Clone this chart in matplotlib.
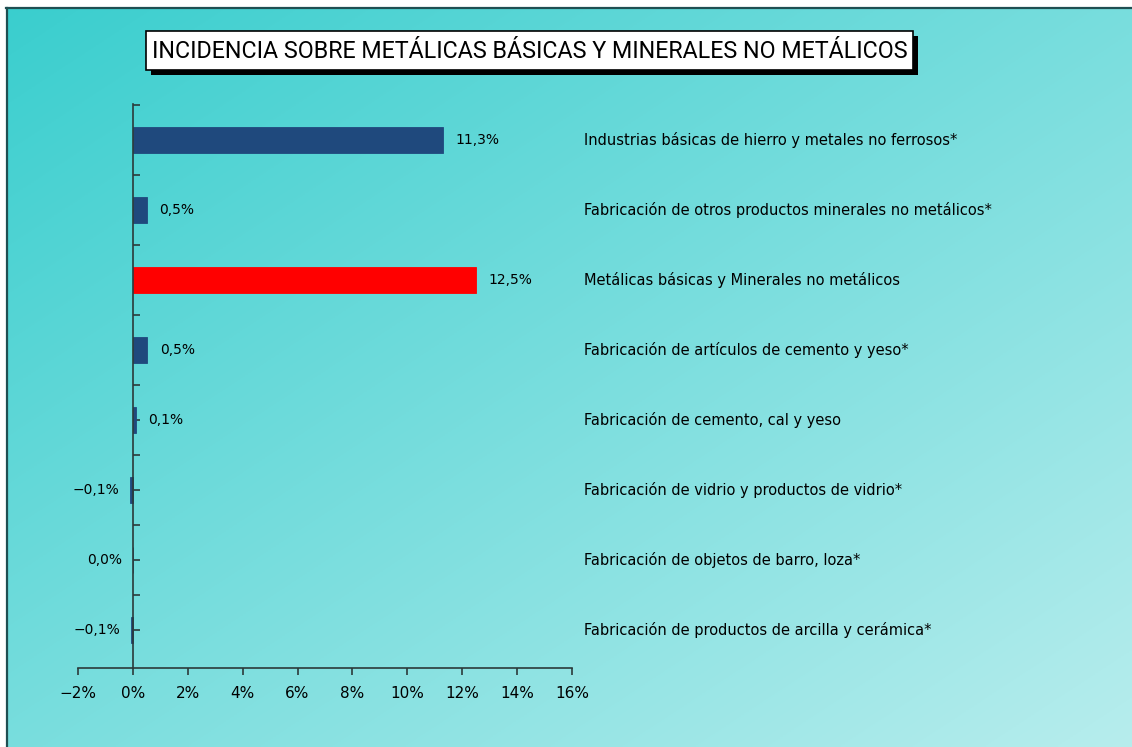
import numpy as np
import matplotlib
matplotlib.use('Agg')
import matplotlib.pyplot as plt
from matplotlib.patches import Rectangle
from matplotlib.lines import Line2D
from matplotlib.ticker import FuncFormatter, MultipleLocator
import matplotlib.transforms as mtransforms


# Data
categories = [
    'Industrias básicas de hierro y metales no ferrosos*',
    'Fabricación de otros productos minerales no metálicos*',
    'Metálicas básicas y Minerales no metálicos',
    'Fabricación de artículos de cemento y yeso*',
    'Fabricación de cemento, cal y yeso',
    'Fabricación de vidrio y productos de vidrio*',
    'Fabricación de objetos de barro, loza*',
    'Fabricación de productos de arcilla y cerámica*',
]
values = [11.3, 0.5, 12.5, 0.53, 0.1, -0.1, 0.0, -0.06]
highlight = [False, False, True, False, False, False, False, False]
title = 'INCIDENCIA SOBRE METÁLICAS BÁSICAS Y MINERALES NO METÁLICOS'

# Style
W, H = 1132, 747
bar_color = '#1F497D'
hi_color = '#FF0000'
axis_color = '#2b3a3a'
c_start = np.array([58, 206, 206]) / 255.0
c_end = np.array([183, 237, 237]) / 255.0

fig = plt.figure(figsize=(W / 100, H / 100), dpi=100)
fig.patch.set_facecolor('white')

# gradient background inside the frame
bg = fig.add_axes([6 / W, 0, 1 - 6 / W, 1 - 8 / H])
bg.set_axis_off()
gx, gy = np.meshgrid(np.linspace(0, 1, 400), np.linspace(0, 1, 300))
t = (gx * 0.5 + gy * 0.5)
img = c_start[None, None, :] * (1 - t[..., None]) + c_end[None, None, :] * t[..., None]
bg.imshow(img, aspect='auto', extent=(0, 1, 0, 1), origin='upper')
bg.set_xlim(0, 1)
bg.set_ylim(0, 1)

# frame border (top + left)
fig.add_artist(Line2D([6 / W, 1], [1 - 8 / H, 1 - 8 / H], transform=fig.transFigure,
                      color='#1f4f52', linewidth=1.6))
fig.add_artist(Line2D([7 / W, 7 / W], [0, 1 - 8 / H], transform=fig.transFigure,
                      color='#1f4f52', linewidth=1.6))

# main axes
ax = fig.add_axes([78 / W, (H - 668) / H, 494 / W, 564 / H])
ax.patch.set_alpha(0)
y = np.arange(len(categories))
colors = [hi_color if h else bar_color for h in highlight]
ax.barh(y, values, height=0.36, color=colors, edgecolor=colors, linewidth=0.6, zorder=3)

ax.set_xlim(-2, 16)
ax.set_ylim(7 + 38 / 70, -36 / 70)
ax.xaxis.set_major_locator(MultipleLocator(2))
ax.xaxis.set_major_formatter(FuncFormatter(lambda v, p: f'{v:.0f}%'.replace('-', '\u2212')))
ax.set_yticks(np.arange(-0.5, 7.5, 0.5))
ax.set_yticklabels([])

for s in ['top', 'right']:
    ax.spines[s].set_visible(False)
ax.spines['left'].set_position(('data', 0))
ax.spines['left'].set_color(axis_color)
ax.spines['bottom'].set_color(axis_color)
ax.spines['left'].set_linewidth(1.2)
ax.spines['bottom'].set_linewidth(1.2)
ax.spines['left'].set_zorder(4)
ax.tick_params(axis='x', direction='out', length=5, width=1.2, color=axis_color,
               labelsize=11, labelcolor='black', pad=8)
ax.tick_params(axis='y', direction='in', length=5, width=1.2, color=axis_color)

# value labels
for yi, v in zip(y, values):
    txt = f'{v:.1f}%'.replace('.', ',').replace('-', '\u2212')
    if v > 0:
        ax.annotate(txt, (v, yi), xytext=(9, 0), textcoords='offset points',
                    ha='left', va='center', fontsize=10, color='black')
    else:
        ax.annotate(txt, (v, yi), xytext=(-8, 0), textcoords='offset points',
                    ha='right', va='center', fontsize=10, color='black')

# category labels on the right
trans = mtransforms.blended_transform_factory(fig.transFigure, ax.transData)
for yi, c in zip(y, categories):
    ax.text(584 / W, yi, c, transform=trans, ha='left', va='center',
            fontsize=10.5, color='black', clip_on=False)

# title box with shadow
bx0, bx1, by0, by1 = 146, 913, 31, 70
fig.add_artist(Rectangle(((bx0 + 5) / W, (H - by1 - 5) / H), (bx1 - bx0) / W, (by1 - by0) / H,
                         transform=fig.transFigure, facecolor='black', edgecolor='none'))
fig.add_artist(Rectangle((bx0 / W, (H - by1) / H), (bx1 - bx0) / W, (by1 - by0) / H,
                         transform=fig.transFigure, facecolor='white', edgecolor='black',
                         linewidth=1.2))
ttl = fig.text((bx0 + bx1) / 2 / W, 1 - (by0 + by1) / 2 / H - 1 / H, title,
               ha='center', va='center', fontsize=18,
               family=['Roboto', 'DejaVu Sans'], color='black')
# fit title width to the box
renderer = fig.canvas.get_renderer()
tw = ttl.get_window_extent(renderer).width
ttl.set_fontsize(18 * 756 / tw)

fig.savefig('out.png', dpi=100, facecolor=fig.get_facecolor())
